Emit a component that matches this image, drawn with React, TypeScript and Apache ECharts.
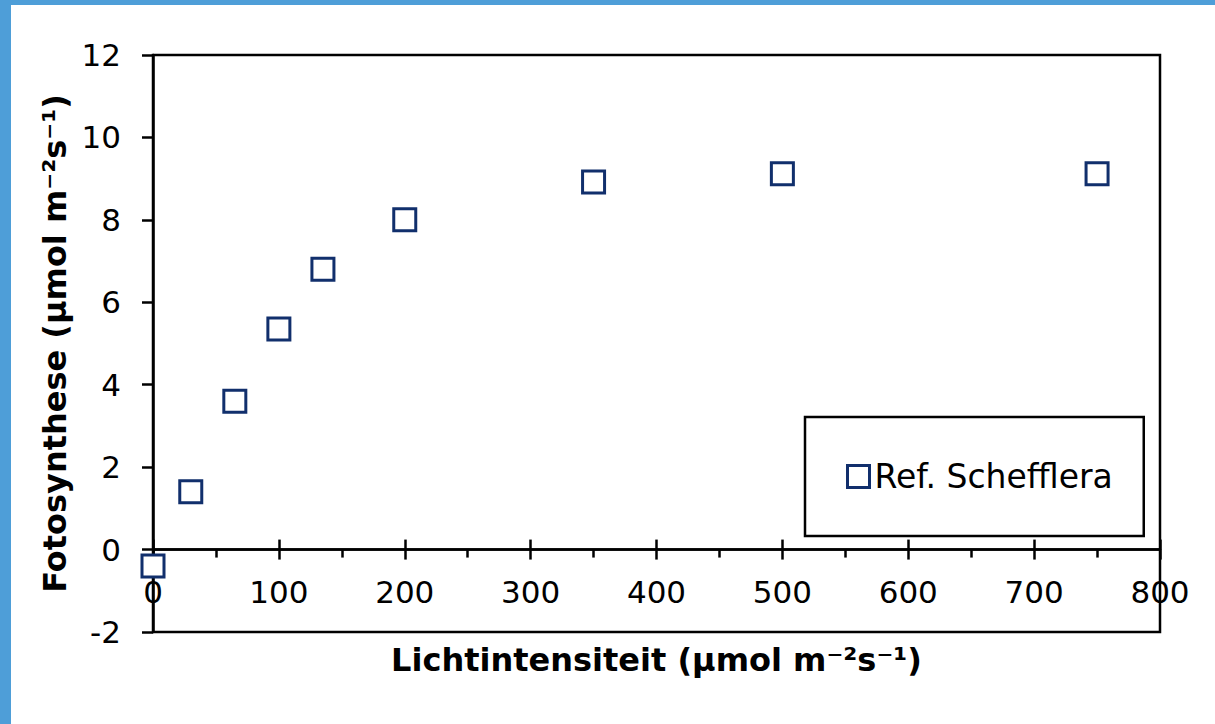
import React, { useEffect, useRef } from "react";
import * as echarts from "echarts";

const lightIntensity = [0, 30, 65, 100, 135, 200, 350, 500, 750];
const photosynthesis = [-0.4, 1.4, 3.6, 5.35, 6.8, 8.0, 8.92, 9.12, 9.12];
const seriesName = "Ref. Schefflera";
const xTitle = "Lichtintensiteit (µmol m⁻²s⁻¹)";
const yTitle = "Fotosynthese (µmol m⁻²s⁻¹)";

const FONT = 'Verdana, "DejaVu Sans", sans-serif';
const NAVY = "#112f6c";

export default function App() {
  const ref = useRef<HTMLDivElement>(null);
  useEffect(() => {
    document.body.style.margin = "0";
    const chart = echarts.init(ref.current!, null, { renderer: "svg" });
    const grid = { left: 153, top: 55, width: 1007, height: 577, outerBoundsMode: "none", containLabel: false };
    chart.setOption({
      animation: false,
      backgroundColor: "#fff",
      textStyle: { fontFamily: FONT },
      graphic: [
        { type: "rect", shape: { x: 0, y: 0, width: 1215, height: 5 }, style: { fill: "#4e9ed8" }, silent: true },
        { type: "rect", shape: { x: 0, y: 0, width: 11, height: 724 }, style: { fill: "#4e9ed8" }, silent: true },
      ],
      grid: [
        { ...grid, show: true, borderColor: "#000", borderWidth: 2.5, backgroundColor: "transparent" },
        { ...grid, show: false },
      ],
      legend: {
        data: [seriesName],
        left: 805,
        top: 417,
        orient: "horizontal",
        icon: "rect",
        itemWidth: 22,
        itemHeight: 22,
        itemGap: 6,
        padding: [43, 31, 43, 41],
        borderColor: "#000",
        borderWidth: 2.5,
        backgroundColor: "#fff",
        itemStyle: { color: "#fff", borderColor: NAVY, borderWidth: 3 },
        textStyle: { fontSize: 33, color: "#000", fontFamily: FONT, padding: [0, 0, 0, 0] },
      },
      xAxis: [
        {
          type: "value",
          gridIndex: 0,
          min: 0,
          max: 800,
          interval: 100,
          name: xTitle,
          nameLocation: "middle",
          nameGap: 12,
          nameTextStyle: { fontSize: 32, fontWeight: "bold", color: "#000", fontFamily: FONT },
          axisLine: { show: true, onZero: true, lineStyle: { color: "#000", width: 2.5 } },
          axisTick: { show: true, inside: false, length: 10, lineStyle: { color: "#000", width: 2.5 } },
          minorTick: { show: true, splitNumber: 2, length: 8, lineStyle: { color: "#000", width: 2.5 } },
          axisLabel: { fontSize: 31, color: "#000", margin: -56, fontFamily: FONT },
          splitLine: { show: false },
          minorSplitLine: { show: false },
        },
        {
          type: "value",
          gridIndex: 1,
          min: 0,
          max: 800,
          interval: 100,
          axisLine: { show: true, onZero: true, lineStyle: { color: "#000", width: 2.5 } },
          axisTick: { show: true, inside: true, length: 10, lineStyle: { color: "#000", width: 2.5 } },
          axisLabel: { show: false },
          splitLine: { show: false },
        },
      ],
      yAxis: [
        {
          type: "value",
          gridIndex: 0,
          min: -2,
          max: 12,
          interval: 2,
          name: yTitle,
          nameLocation: "middle",
          nameGap: 80,
          nameRotate: 90,
          nameTextStyle: { fontSize: 32, fontWeight: "bold", color: "#000", fontFamily: FONT },
          axisLine: { show: true, onZero: false, lineStyle: { color: "#000", width: 2.5 } },
          axisTick: { show: true, inside: false, length: 11, lineStyle: { color: "#000", width: 2.5 } },
          axisLabel: { fontSize: 31, color: "#000", margin: 32, fontFamily: FONT },
          splitLine: { show: false },
        },
        {
          type: "value",
          gridIndex: 1,
          min: -2,
          max: 12,
          interval: 2,
          show: false,
        },
      ],
      series: [
        {
          name: seriesName,
          type: "scatter",
          xAxisIndex: 0,
          yAxisIndex: 0,
          symbol: "rect",
          symbolSize: 22,
          data: lightIntensity.map((x, i) => [x, photosynthesis[i]]),
          itemStyle: { color: "#fff", borderColor: NAVY, borderWidth: 3, opacity: 1 },
          z: 5,
        },
      ],
    });
    return () => chart.dispose();
  }, []);
  return <div ref={ref} style={{ position: "fixed", left: 0, top: 0, width: 1215, height: 724 }} />;
}
